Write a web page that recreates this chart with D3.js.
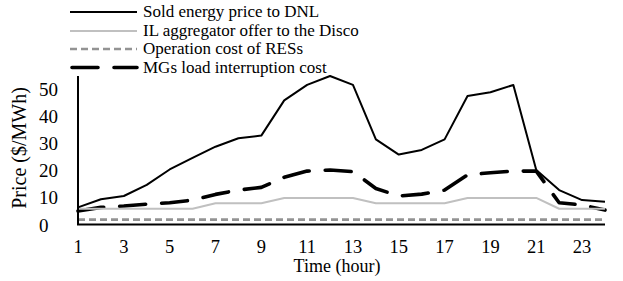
<!DOCTYPE html>
<html>
<head>
<meta charset="utf-8">
<script src="https://cdn.jsdelivr.net/npm/d3@7"></script>
<style>
  body { margin: 0; background: #fff; }
  text { font-family: "Liberation Serif", "Times New Roman", serif; fill: #000; }
</style>
</head>
<body>
<script>
// data
const hours = d3.range(1, 25)
const soldPrice = [6.5, 9.5, 10.7, 14.8, 20.5, 24.8, 28.9, 32, 33, 46, 51.7, 55, 51.7, 31.6, 26, 27.7, 31.6, 47.6, 49, 51.7, 20.3, 12.9, 9.2, 8.6]
const ilOffer = [6, 6, 6, 6, 6, 6, 8, 8, 8, 10, 10, 10, 10, 8, 8, 8, 8, 10, 10, 10, 10, 6, 6, 6]
const resCost = [2, 2, 2, 2, 2, 2, 2, 2, 2, 2, 2, 2, 2, 2, 2, 2, 2, 2, 2, 2, 2, 2, 2, 2]
const mgCost = [5.2, 6.5, 7, 7.7, 8.2, 9.2, 11.3, 12.9, 13.9, 17.6, 19.9, 20.3, 19.7, 13.5, 10.7, 11.4, 12.9, 18.5, 19.3, 19.9, 19.9, 8.2, 7.4, 5.5]
const xTicks = [1, 3, 5, 7, 9, 11, 13, 15, 17, 19, 21, 23]
const yTicks = [0, 10, 20, 30, 40, 50]

const series = [
  { name: 'Sold energy price to DNL', values: soldPrice, color: '#000', width: 2, dash: null, cap: 'butt' },
  { name: 'IL aggregator offer to the Disco', values: ilOffer, color: '#c0c0c0', width: 2, dash: null, cap: 'butt' },
  { name: 'Operation cost of RESs', values: resCost, color: '#939393', width: 2.7, dash: '7,4', cap: 'butt' },
  { name: 'MGs load interruption cost', values: mgCost, color: '#000', width: 3.6, dash: '26,16', cap: 'round' }
]

const svg = d3.select('body').append('svg')
    .attr('width', 623)
    .attr('height', 281)

const x = d3.scaleLinear().domain([1, 24]).range([78, 605])
const y = d3.scaleLinear().domain([0, 55]).range([225, 76])

// y tick labels
svg.append('g').selectAll('text')
    .data(yTicks)
    .enter().append('text')
    .attr('x', 39)
    .attr('y', d => y(d) + 6.5)
    .style('font-size', '19px')
    .text(d => d)

// x tick labels
svg.append('g').selectAll('text')
    .data(xTicks)
    .enter().append('text')
    .attr('x', d => x(d))
    .attr('y', 253)
    .attr('text-anchor', 'middle')
    .style('font-size', '18.5px')
    .text(d => d)

svg.append('text')
    .attr('x', 337)
    .attr('y', 272)
    .attr('text-anchor', 'middle')
    .style('font-size', '18px')
    .text('Time (hour)')

svg.append('text')
    .attr('transform', 'translate(26,148) rotate(-90)')
    .attr('text-anchor', 'middle')
    .style('font-size', '20px')
    .text('Price ($/MWh)')

// lines, drawn bottom series first
const line = d3.line()
    .x((d, i) => x(hours[i]))
    .y(d => y(d))

series.slice().reverse().forEach(s => {
  svg.append('path')
      .attr('d', line(s.values))
      .attr('fill', 'none')
      .attr('stroke', s.color)
      .attr('stroke-width', s.width)
      .attr('stroke-dasharray', s.dash)
      .attr('stroke-linecap', s.cap)
      .attr('stroke-linejoin', 'round')
})

// axes lines
svg.append('line')
    .attr('x1', x(1)).attr('x2', x(1))
    .attr('y1', 76).attr('y2', y(0))
    .attr('stroke', '#000')
    .attr('stroke-width', 2)

svg.append('line')
    .attr('x1', x(1) - 1).attr('x2', x(24))
    .attr('y1', y(0) - 0.5).attr('y2', y(0) - 0.5)
    .attr('stroke', '#000')
    .attr('stroke-width', 2)

// legend
const legendY = [12, 31, 49, 67.5]
const legend = svg.append('g')
series.forEach((s, i) => {
  legend.append('line')
      .attr('x1', s.cap === 'round' ? 72 : 70)
      .attr('x2', 137)
      .attr('y1', legendY[i])
      .attr('y2', legendY[i])
      .attr('stroke', s.color)
      .attr('stroke-width', s.width)
      .attr('stroke-dasharray', s.dash)
      .attr('stroke-linecap', s.cap)
  legend.append('text')
      .attr('x', 143)
      .attr('y', legendY[i] + 5)
      .style('font-size', '17px')
      .text(s.name)
})
</script>
</body>
</html>
